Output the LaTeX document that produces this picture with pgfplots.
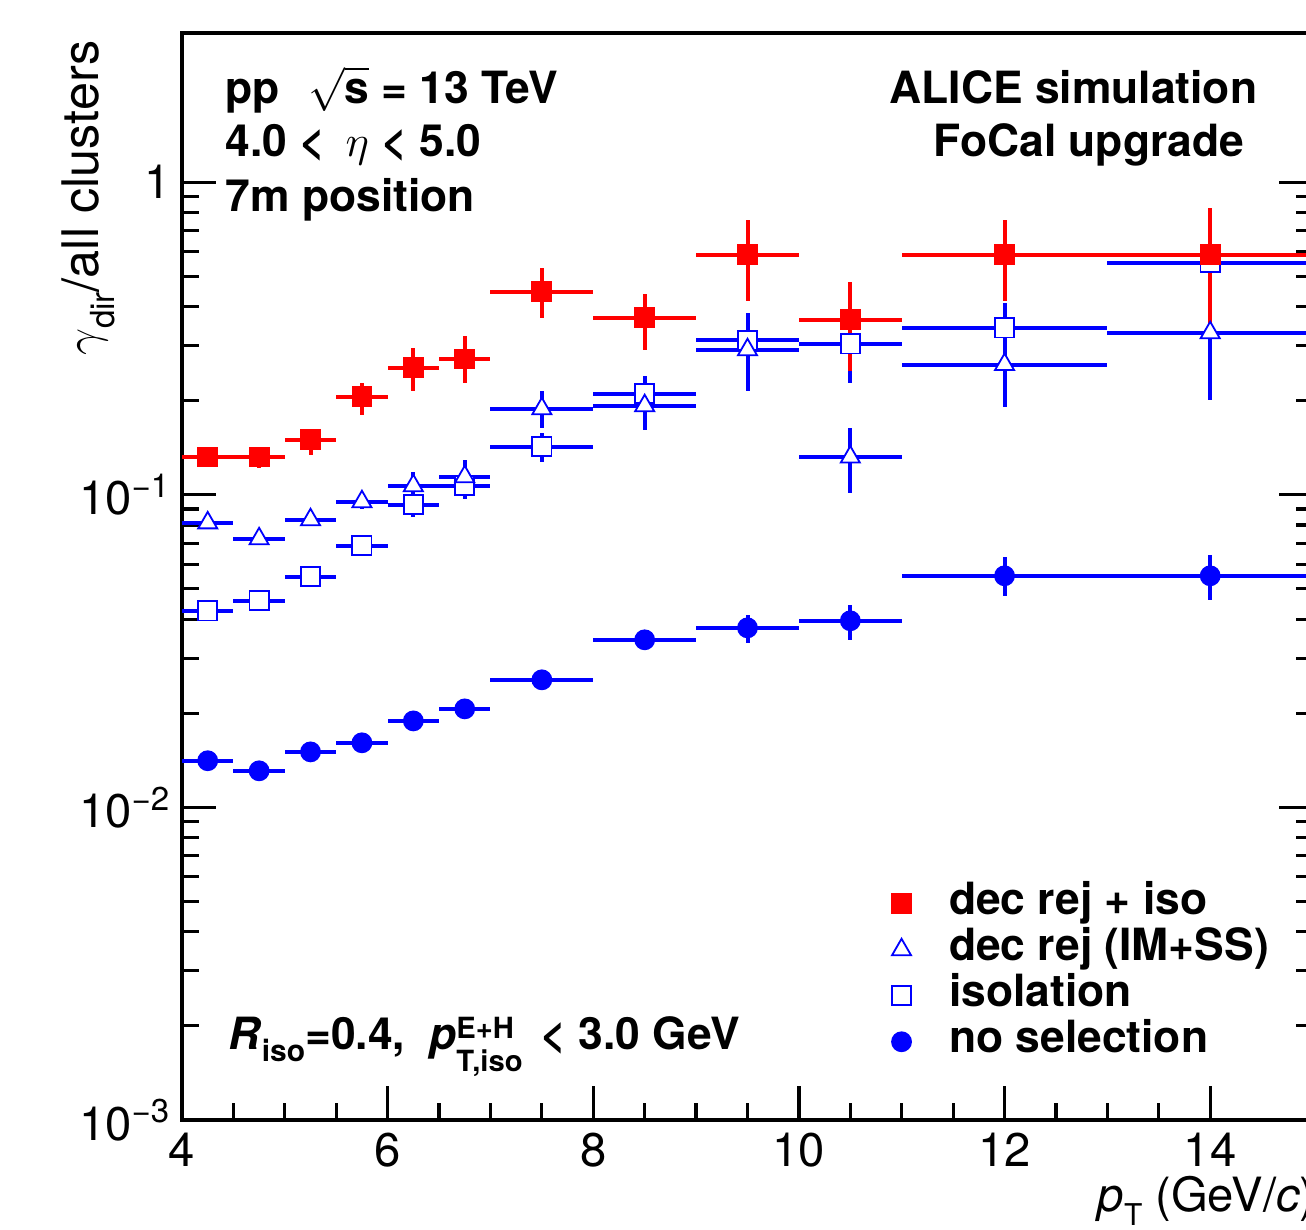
\documentclass[border=0pt]{standalone}
\usepackage{fontspec}
\setmainfont{TeX Gyre Heros}
\usepackage{pgfplots}
\pgfplotsset{compat=1.18}
\usepackage{pgfplotstable}
\definecolor{rootred}{RGB}{255,0,0}
\definecolor{rootblue}{RGB}{0,0,255}

% no selection
\pgfplotstableread{
x ex y eyp eym
4.25 0.25 0.01410 0.0004 0.0004
4.75 0.25 0.01309 0.0004 0.0004
5.25 0.25 0.01505 0.0005 0.0005
5.75 0.25 0.01609 0.0005 0.0005
6.25 0.25 0.01891 0.0006 0.0006
6.75 0.25 0.02066 0.0007 0.0007
7.5 0.5 0.02559 0.0008 0.0008
8.5 0.5 0.03436 0.0020 0.0020
9.5 0.5 0.03753 0.0038 0.0039
10.5 0.5 0.03953 0.0050 0.0051
12 1 0.05505 0.0083 0.0076
14 1 0.05505 0.0093 0.0089
}\ns
% isolation
\pgfplotstableread{
x ex y eyp eym
4.25 0.25 0.0425 0.001 0.001
4.75 0.25 0.0458 0.001 0.001
5.25 0.25 0.0547 0.0015 0.0015
5.75 0.25 0.0687 0.002 0.002
6.25 0.25 0.0929 0.007 0.008
6.75 0.25 0.1070 0.008 0.010
7.5 0.5 0.1425 0.0155 0.015
8.5 0.5 0.2106 0.029 0.020
9.5 0.5 0.312 0.035 0.035
10.5 0.5 0.304 0.05 0.076
12 1 0.342 0.07 0.07
14 1 0.553 0.10 0.10
}\iso
% dec rej (IM+SS)
\pgfplotstableread{
x ex y eyp eym
4.25 0.25 0.0813 0.002 0.002
4.75 0.25 0.0723 0.002 0.002
5.25 0.25 0.0832 0.003 0.003
5.75 0.25 0.0950 0.005 0.005
6.25 0.25 0.1069 0.0116 0.0126
6.75 0.25 0.1142 0.015 0.010
7.5 0.5 0.1885 0.0255 0.0245
8.5 0.5 0.1927 0.032 0.032
9.5 0.5 0.291 0.091 0.077
10.5 0.5 0.132 0.032 0.0305
12 1 0.261 0.07 0.070
14 1 0.330 0.10 0.129
}\dr
% dec rej + iso
\pgfplotstableread{
x ex y eyp eym
4.25 0.25 0.132 0.004 0.004
4.75 0.25 0.132 0.0095 0.010
5.25 0.25 0.150 0.011 0.016
5.75 0.25 0.206 0.022 0.026
6.25 0.25 0.255 0.040 0.041
6.75 0.25 0.272 0.049 0.045
7.5 0.5 0.446 0.087 0.078
8.5 0.5 0.368 0.072 0.077
9.5 0.5 0.586 0.173 0.168
10.5 0.5 0.363 0.118 0.115
12 1 0.586 0.17 0.168
14 1 0.586 0.243 0.25
}\dri

\begin{document}
\begin{tikzpicture}[x=1pt,y=1pt]
\path[use as bounding box] (0,0) rectangle (326.5,307.5);
\clip (0,0) rectangle (326.5,307.5);
\begin{axis}[
  at={(45.5pt,27.5pt)}, anchor=south west,
  scale only axis, width=282.75pt, height=271.75pt,
  xmin=4, xmax=15, ymin=1e-3, ymax=3, ymode=log,
  axis line style={line width=0.9pt},
  every tick/.style={black, line width=0.8pt},
  major tick length=8.5pt, minor tick length=4.25pt,
  xtick={4,6,8,10,12,14}, xticklabels={4,6,8,10,12,14},
  minor x tick num=3,
  xtick pos=bottom, ytick pos=both,
  ytick={0.001,0.01,0.1,1},
  yticklabels={10\textsuperscript{−3},10\textsuperscript{−2},10\textsuperscript{−1},1},
  tick label style={font=\fontsize{11.8}{14}\selectfont},
  yticklabel style={inner xsep=2.5pt},
  xticklabel style={inner ysep=3pt},
  reverse legend,
  legend cell align=left,
  legend style={at={(0.627,0.219)}, anchor=north west, draw=none, fill=none,
    inner sep=0pt, row sep=1pt, column sep=9.5pt,
    font=\bfseries\fontsize{11.1}{13}\selectfont,
    nodes={inner sep=0pt, text height=8pt, text depth=2.5pt}},
  error bars/error bar style={line width=1pt},
]
\addplot[only marks, color=rootblue, mark=*, mark size=2.4pt,
  error bars/.cd, x dir=both, x explicit, y dir=both, y explicit, error mark=none]
  table[x=x, y=y, x error=ex, y error plus=eyp, y error minus=eym]{\ns};
\addlegendentry{no selection}
\addplot[only marks, color=rootblue, mark=square*, mark size=2.4pt,
  mark options={fill=white, draw=rootblue, line width=0.45pt},
  error bars/.cd, x dir=both, x explicit, y dir=both, y explicit, error mark=none]
  table[x=x, y=y, x error=ex, y error plus=eyp, y error minus=eym]{\iso};
\addlegendentry{isolation}
\addplot[only marks, color=rootblue, mark=triangle*, mark size=2.75pt,
  mark options={fill=white, draw=rootblue, line width=0.45pt},
  error bars/.cd, x dir=both, x explicit, y dir=both, y explicit, error mark=none]
  table[x=x, y=y, x error=ex, y error plus=eyp, y error minus=eym]{\dr};
\addlegendentry{dec rej (IM+SS)}
\addplot[only marks, color=rootred, mark=square*, mark size=2.4pt,
  error bars/.cd, x dir=both, x explicit, y dir=both, y explicit, error mark=none]
  table[x=x, y=y, x error=ex, y error plus=eyp, y error minus=eym]{\dri};
\addlegendentry{dec rej + iso}
\end{axis}
\begin{scope}[font=\bfseries\fontsize{11.1}{13}\selectfont]
\node[anchor=base west, inner sep=0pt] at (56.25,281.5) {pp\hspace{7pt}$\sqrt{\mbox{s}}$ = 13 TeV};
\node[anchor=base west, inner sep=0pt] at (56.25,268.25) {4.0 <\, $\eta$ < 5.0};
\node[anchor=base west, inner sep=0pt] at (56.25,254.5) {7m position};
\node[anchor=base east, inner sep=0pt] at (314.5,281.5) {ALICE simulation};
\node[anchor=base east, inner sep=0pt] at (311.25,268.25) {FoCal upgrade};
\node[anchor=base west, inner sep=0pt] at (57,45) {\textit{R}\raisebox{-3pt}{\fontsize{7.5}{8}\selectfont iso}=0.4,\hspace{6pt}$\mbox{\textit{p}}^{\raisebox{-1pt}{\fontsize{7.3}{8}\selectfont\bfseries E+H}}_{\raisebox{-2.5pt}{\fontsize{7.3}{8}\selectfont\bfseries T,iso}}$\hspace{4pt}< 3.0 GeV};
\end{scope}
\node[rotate=90, anchor=base east, inner sep=0pt, font=\fontsize{12.6}{14}\selectfont] at (24.5,297.5) {$\gamma$\raisebox{-4pt}{\fontsize{8.3}{9}\selectfont dir}/all clusters};
\node[anchor=base west, inner sep=0pt, font=\fontsize{11.8}{14}\selectfont] at (274.25,4.5) {\textit{p}\raisebox{-3.5pt}{\fontsize{7.5}{8}\selectfont T} (GeV/\textit{c})};
\end{tikzpicture}
\end{document}
